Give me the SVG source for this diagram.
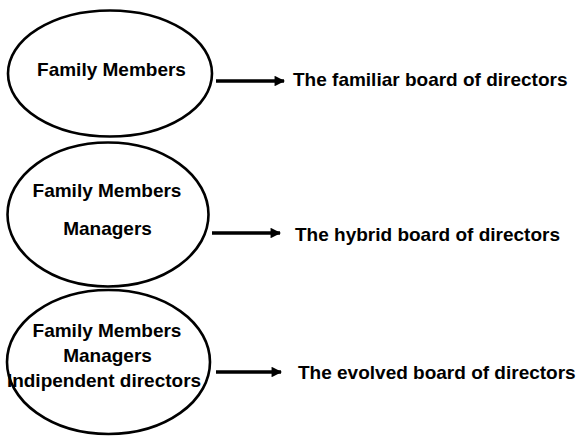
<svg xmlns="http://www.w3.org/2000/svg" width="576" height="436" viewBox="0 0 576 436">
<style>
.node ellipse{fill:#fff;stroke:#000;stroke-width:2.6}
text{font-family:"Liberation Sans",Arial,sans-serif;font-weight:bold;font-size:19px;fill:#000}
.c{text-anchor:middle}
.conn line{stroke:#000;stroke-width:3.5}
</style>
<defs>
<marker id="ah" viewBox="0 0 10 10" refX="9" refY="5" markerWidth="3.2" markerHeight="3" orient="auto" markerUnits="strokeWidth">
<path d="M0,0 L10,5 L0,10 z" fill="#000"/>
</marker>
</defs>
<rect width="576" height="436" fill="#fff"/>
<g id="n1" class="node">
<ellipse cx="110" cy="73.5" rx="102" ry="63"/>
<text class="c" x="111.5" y="76">Family Members</text>
</g>
<g id="n2" class="node">
<ellipse cx="108" cy="214.5" rx="100.5" ry="72"/>
<text class="c" x="107" y="197">Family Members</text>
<text class="c" x="107.5" y="235">Managers</text>
</g>
<g id="n3" class="node">
<ellipse cx="108.5" cy="362" rx="101.5" ry="72"/>
<text class="c" x="107" y="337">Family Members</text>
<text class="c" x="107.5" y="362">Managers</text>
<text class="c" x="104" y="387">Indipendent directors</text>
</g>
<g id="l1"><text x="293" y="86">The familiar board of directors</text></g>
<g id="l2"><text x="295" y="241">The hybrid board of directors</text></g>
<g id="l3"><text x="298" y="379">The evolved board of directors</text></g>
<g class="conn">
<line x1="216" y1="81" x2="284" y2="81" marker-end="url(#ah)"/>
<line x1="212" y1="233" x2="280" y2="233" marker-end="url(#ah)"/>
<line x1="216" y1="372" x2="281" y2="372" marker-end="url(#ah)"/>
</g>
</svg>
